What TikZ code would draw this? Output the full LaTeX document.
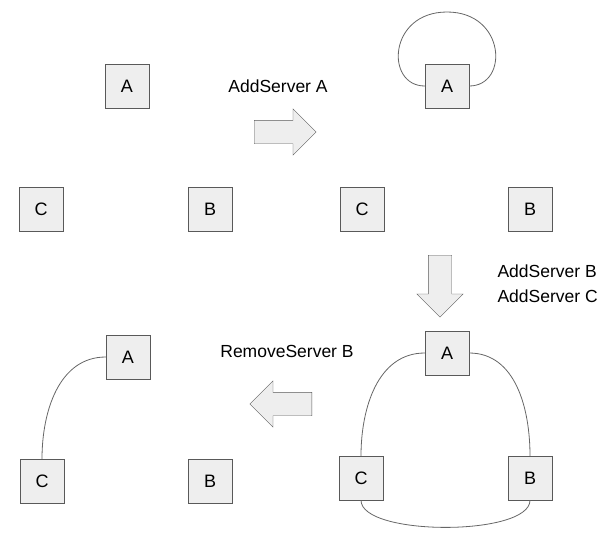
\documentclass[tikz,border=0pt]{standalone}
\usepackage{fontspec}
\setmainfont{Liberation Sans}
\usetikzlibrary{shapes.arrows}
\definecolor{boxfill}{HTML}{EEEEEE}
\definecolor{boxline}{HTML}{595959}
\definecolor{linkline}{HTML}{666666}
\tikzset{
  srv/.style={draw=boxline, fill=boxfill, minimum size=44pt, inner sep=0pt,
    font=\fontsize{18}{20}\selectfont},
  link/.style={draw=linkline, line width=0.8pt},
  bigarrow/.style={single arrow, draw=boxline, fill=boxfill, inner sep=0pt,
    text height=23pt, text depth=0pt, text width=0pt,
    minimum width=46pt, single arrow head extend=11.5pt, minimum height=62pt},
  caption/.style={font=\fontsize{17.5}{25}\selectfont}
}
\begin{document}
\begin{tikzpicture}[x=1pt,y=-1pt]
  \useasboundingbox (0,0) rectangle (615,536);
  % start: three servers, no links
  \node[srv] (a1) at (127,86) {A};
  \node[srv] (c1) at (41,209) {C};
  \node[srv] (b1) at (210,209) {B};
  \node[bigarrow, anchor=tail] (step1) at (254,132) {};
  \node[caption] (t1) at (278,86) {AddServer A};
  % after AddServer A
  \node[srv] (a2) at (447,86) {A};
  \node[srv] (c2) at (362,209) {C};
  \node[srv] (b2) at (530,209) {B};
  \draw[link] (a2.west) .. controls (385,86) and (388,12) .. (447,12)
    .. controls (506,12) and (509,86) .. (a2.east);
  \node[bigarrow, rotate=270, anchor=tail] (step2) at (440,255) {};
  \node[caption, align=left, anchor=west] (t2) at (494,284) {AddServer B\\AddServer C};
  % after AddServer B, C
  \node[srv] (a3) at (447,353) {A};
  \node[srv] (c3) at (361,478) {C};
  \node[srv] (b3) at (530,478) {B};
  \draw[link] (a3.west) to[out=180,in=90] (c3.north);
  \draw[link] (a3.east) to[out=0,in=90] (b3.north);
  \draw[link] (c3.south) to[out=-90,in=-90,looseness=0.55] (b3.south);
  \node[bigarrow, rotate=180, anchor=tail] (step3) at (312,404) {};
  \node[caption] (t3) at (287,351) {RemoveServer B};
  % after RemoveServer B
  \node[srv] (a4) at (128,357) {A};
  \node[srv] (c4) at (42,481) {C};
  \node[srv] (b4) at (210,481) {B};
  \draw[link] (a4.west) to[out=180,in=90] (c4.north);
\end{tikzpicture}
\end{document}
